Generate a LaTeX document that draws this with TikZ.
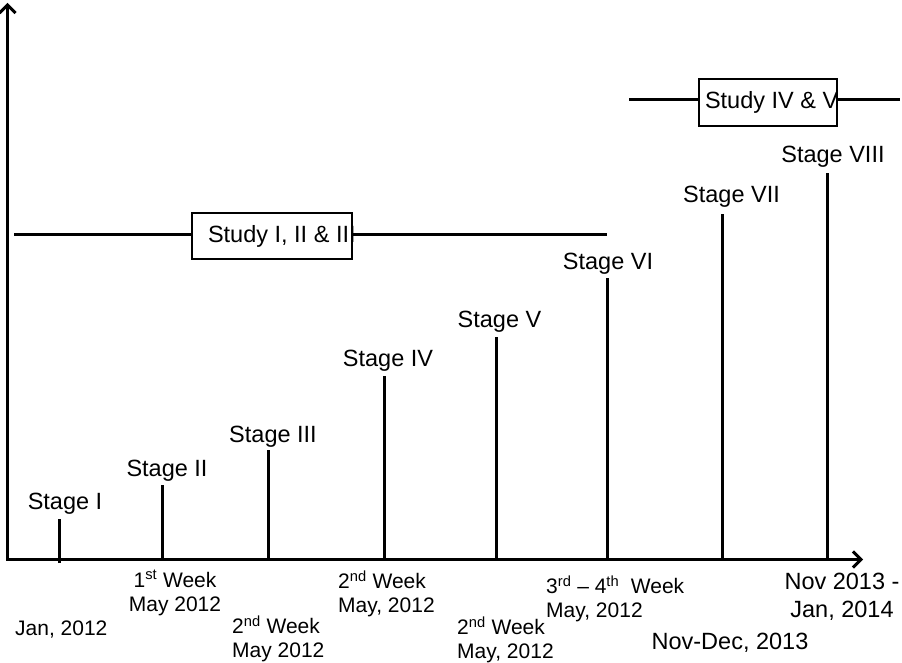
\documentclass[tikz,border=0pt]{standalone}
\usepackage{fontspec}
\setmainfont{Liberation Sans}
\usetikzlibrary{arrows.meta}
\newcommand\stagefont{\fontsize{23.5}{28}\selectfont}
\newcommand\datefont{\fontsize{21}{24}\selectfont}
\begin{document}
\begin{tikzpicture}[x=1pt,y=-1pt,
  axisline/.style={line width=3pt,
    {Straight Barb[length=8pt,width=16pt,line width=3pt]}-{Straight Barb[length=8pt,width=16pt,line width=3pt]}},
  stem/.style={line width=3pt},
  studyline/.style={line width=3pt},
  studybox/.style={draw, line width=1.5pt, fill=white, inner sep=0pt, font=\stagefont},
  stagelabel/.style={anchor=base, inner sep=0pt, font=\stagefont},
  datelabel/.style={inner sep=0pt, font=\datefont},
  bigdate/.style={inner sep=0pt, font=\stagefont}]

\useasboundingbox (0,0) rectangle (902,663);

% axes
\coordinate (o) at (7.5,559.5);
\coordinate (ytop) at (7.5,3);
\coordinate (xend) at (863,559.5);
\draw[axisline] (ytop) -- (o) -- (xend);

% stage stems
\coordinate (s1b) at (59,563);   \coordinate (s1t) at (59,519);
\coordinate (s2b) at (162,559);  \coordinate (s2t) at (162,485);
\coordinate (s3b) at (268,558);  \coordinate (s3t) at (268,450);
\coordinate (s4b) at (384,559);  \coordinate (s4t) at (384,376);
\coordinate (s5b) at (496,558);  \coordinate (s5t) at (496,337);
\coordinate (s6b) at (607,559);  \coordinate (s6t) at (607,278);
\coordinate (s7b) at (722,559);  \coordinate (s7t) at (722,214);
\coordinate (s8b) at (827,559);  \coordinate (s8t) at (827,173);
\foreach \i in {1,...,8} \draw[stem] (s\i b) -- (s\i t);

% stage labels
\node[stagelabel] (st1) at (65,509)    {Stage I};
\node[stagelabel] (st2) at (167,476)   {Stage II};
\node[stagelabel] (st3) at (273,442)   {Stage III};
\node[stagelabel] (st4) at (388,366)   {Stage IV};
\node[stagelabel] (st5) at (499.5,327) {Stage V};
\node[stagelabel] (st6) at (608,269)   {Stage VI};
\node[stagelabel] (st7) at (731.5,203) {Stage VII};
\node[stagelabel] (st8) at (833,163)   {Stage VIII};

% study periods
\node[studybox, minimum width=160pt, minimum height=46pt] (b1) at (272,236)
  {\makebox[128pt][l]{Study I, II \& III}};
\coordinate (l1a) at (14,234);
\coordinate (l1b) at (607,234);
\draw[studyline] (l1a) -- (l1a -| b1.west);
\draw[studyline] (l1b -| b1.east) -- (l1b);

\node[studybox, minimum width=138pt, minimum height=47pt] (b2) at (768,102.5)
  {\makebox[126pt][l]{Study IV \& V}};
\coordinate (l2a) at (629,100);
\coordinate (l2b) at (900,100);
\draw[studyline] (l2a) -- (l2a -| b2.west);
\draw[studyline] (l2b -| b2.east) -- (l2b);

% dates
\node[datelabel, anchor=base west] (d1) at (15,635) {Jan, 2012};
\node[datelabel, anchor=north, align=center] (d2) at (175,570.2)
  {\strut1\textsuperscript{st} Week\\May 2012};
\node[datelabel, anchor=north west, align=left] (d3) at (232,615.2)
  {\strut2\textsuperscript{nd} Week\\May 2012};
\node[datelabel, anchor=north west, align=left] (d4) at (338,570.2)
  {\strut2\textsuperscript{nd} Week\\May, 2012};
\node[datelabel, anchor=north west, align=left] (d5) at (457,616.2)
  {\strut2\textsuperscript{nd} Week\\May, 2012};
\node[datelabel, anchor=north west, align=left] (d6) at (546,575.2)
  {\strut3\textsuperscript{rd} -- 4\textsuperscript{th}\ \ Week\\May, 2012};
\node[bigdate, anchor=north, align=center] (d7) at (842,569.4)
  {\strut Nov 2013 -\\Jan, 2014};
\node[bigdate, anchor=base] (d8) at (730,649) {Nov-Dec, 2013};
\end{tikzpicture}
\end{document}
